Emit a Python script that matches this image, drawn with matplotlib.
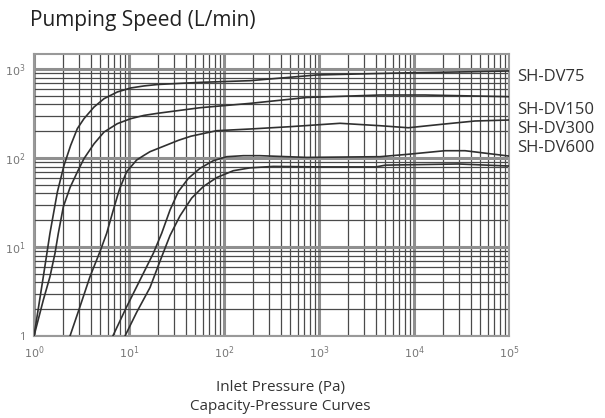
import matplotlib
matplotlib.use("Agg")
import matplotlib.pyplot as plt
from matplotlib.ticker import LogLocator, NullFormatter

plt.rcParams['font.family'] = ['Open Sans', 'DejaVu Sans']

# Data (inlet pressure in Pa, pumping speed in L/min)
p_dv75 = [1, 1.253, 1.472, 1.762, 2.070, 2.432, 2.858, 3.357, 4.285, 5.458, 7.534, 10.42,
          14.39, 20.0, 55.85, 187.9, 946.2, 4385, 10230, 43850, 100000]
s_dv75 = [1, 4.634, 14.26, 41.50, 82.79, 138.7, 213.8, 276.7, 374.1, 464.5, 552.1, 612.4,
          645.7, 670.0, 707.9, 739.6, 857.0, 891.3, 909.9, 933.3, 950.6]

p_dv150 = [1, 1.253, 1.472, 1.663, 1.803, 2.037, 2.399, 2.858, 3.357, 4.285, 5.458, 7.534,
           10.42, 14.39, 20.0, 55.85, 187.9, 741.3, 4385, 13060, 100000]
s_dv150 = [1, 2.535, 4.634, 8.492, 14.26, 28.38, 46.77, 69.66, 98.4, 144.5, 195.9, 243.2,
           276.7, 301.3, 318.0, 367.3, 411.1, 478.6, 510.5, 510.5, 488.7]

p_dv300 = [2.393, 3.048, 3.882, 4.955, 5.821, 6.839, 7.943, 9.441, 12.05, 14.39, 16.63, 24.95,
           33.11, 45.0, 83.75, 187.9, 495.5, 1663, 4385, 8710, 19590, 43850, 100000]
s_dv300 = [1, 2.138, 4.634, 8.913, 14.26, 26.06, 44.67, 70.15, 95.06, 107.2, 117.8, 140.0,
           158.0, 176.0, 202.8, 211.8, 224.9, 245.5, 230.7, 218.8, 239.3, 260.6, 267.3]

p_dv600a = [6.761, 9.441, 13.06, 18.03, 22.08, 27.04, 33.04, 42.17, 55.85, 77.27, 106.7,
            160.0, 239.3, 741.3, 4385, 8710, 21180, 34430, 100000]
s_dv600a = [1, 2.128, 4.256, 8.492, 14.26, 26.06, 41.88, 59.16, 76.56, 93.33, 103.5,
            106.2, 106.2, 101.6, 103.5, 110.2, 120.8, 120.8, 105.2]

p_dv600b = [9.078, 12.05, 16.63, 21.18, 27.04, 34.43, 45.71, 60.67, 83.75, 125.3, 187.9,
            330.4, 1000, 3981, 5012, 29310, 100000]
s_dv600b = [1, 1.85, 3.5, 6.918, 13.49, 22.39, 35.48, 47.86, 60.26, 72.0, 77.5,
            80.5, 79.43, 79.43, 83.18, 85.70, 81.28]

series_labels = ["SH-DV75", "SH-DV150", "SH-DV300", "SH-DV600"]
label_y_px = [77, 109.5, 128.5, 147.5]

x_ticks = [1, 10, 100, 1000, 10000, 100000]
x_tick_labels = [r"$10^0$", r"$10^1$", r"$10^2$", r"$10^3$", r"$10^4$", r"$10^5$"]
y_ticks = [1, 10, 100, 1000]
y_tick_labels = ["1", r"$10^1$", r"$10^2$", r"$10^3$"]

W, H = 605, 418
fig = plt.figure(figsize=(W / 100, H / 100), dpi=100)
ax = fig.add_axes([34 / W, 1 - 336 / H, (509 - 34) / W, (336 - 54) / H])
ax.set_xscale('log')
ax.set_yscale('log')
ax.set_xlim(1, 1e5)
ax.set_ylim(1, 1475)

ax.xaxis.set_minor_locator(LogLocator(base=10, subs=range(2, 10)))
ax.yaxis.set_minor_locator(LogLocator(base=10, subs=range(2, 10)))
ax.xaxis.set_minor_formatter(NullFormatter())
ax.yaxis.set_minor_formatter(NullFormatter())
ax.grid(which='minor', color='#4a4a4a', linewidth=0.9)
ax.grid(which='major', color='#8f8f8f', linewidth=2.2)
ax.set_axisbelow(True)

ax.set_xticks(x_ticks)
ax.set_xticklabels(x_tick_labels)
ax.set_yticks(y_ticks)
ax.set_yticklabels(y_tick_labels)
ax.tick_params(which='both', length=0)
ax.tick_params(axis='x', pad=6, labelsize=8, labelcolor='#777777')
ax.tick_params(axis='y', pad=6, labelsize=8, labelcolor='#777777')

for sp in ax.spines.values():
    sp.set_color('#999999')
    sp.set_linewidth(1.5)

for px, sy in [(p_dv75, s_dv75), (p_dv150, s_dv150), (p_dv300, s_dv300),
               (p_dv600a, s_dv600a), (p_dv600b, s_dv600b)]:
    ax.plot(px, sy, color='#303030', linewidth=1.2, solid_joinstyle='round',
            solid_capstyle='round', zorder=3)

for lab, yp in zip(series_labels, label_y_px):
    fig.text(517 / W, 1 - yp / H, lab, fontsize=12, color='#333333', va='center', ha='left')

fig.text(30 / W, 1 - 26 / H, "Pumping Speed (L/min)", fontsize=15, color='#222222',
         va='baseline', ha='left')
fig.text(280 / W, 1 - 387 / H, "Inlet Pressure (Pa)", fontsize=11, color='#333333',
         va='center', ha='center')
fig.text(280 / W, 1 - 407 / H, "Capacity-Pressure Curves", fontsize=11, color='#333333',
         va='center', ha='center')

fig.savefig("out.png", dpi=100)
